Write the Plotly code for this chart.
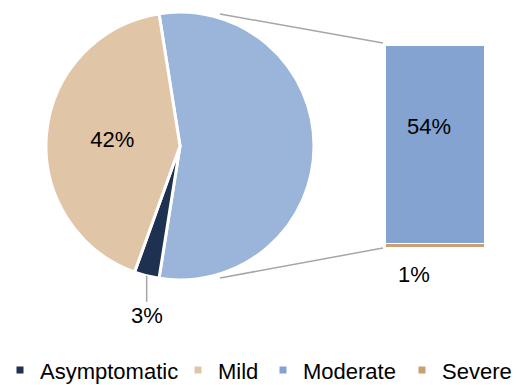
import math
import plotly.graph_objects as go

# Severity breakdown (share of cases, %)
categories = ["Asymptomatic", "Mild", "Moderate", "Severe"]
shares = [3, 42, 54, 1]
colors = ["#1F3150", "#E0C5A6", "#84A3D1", "#C9A074"]
other_color = "#9BB5DA"          # combined Moderate + Severe slice in the pie
pie_labels = ["3%", "42%"]
bar_labels = ["54%", "1%"]

asym, mild, moderate, severe = shares
other = moderate + severe

W, H = 516, 385
FONT = "Liberation Sans"
GREY = "#A6A6A6"

# pie placement in pixels (centre and radius)
cx, cy, r = 180, 146, 134
pie_dom_x = [(cx - r) / W, (cx + r) / W]
pie_dom_y = [(H - cy - r) / H, (H - cy + r) / H]

# the "other" slice is centred on 3 o'clock
total = asym + mild + other
rotation = 90 - 180 * other / total


def px_to_paper(x, y):
    return x / W, (H - y) / H


fig = go.Figure()

fig.add_trace(go.Pie(
    values=[other, asym, mild],
    labels=["Moderate + Severe", categories[0], categories[1]],
    marker=dict(colors=[other_color, colors[0], colors[1]],
                line=dict(color="white", width=3)),
    sort=False,
    direction="clockwise",
    rotation=rotation,
    text=["", "", pie_labels[1]],
    textinfo="text",
    textposition=["none", "none", "inside"],
    insidetextorientation="horizontal",
    textfont=dict(family=FONT, size=22, color="black"),
    domain=dict(x=pie_dom_x, y=pie_dom_y),
    showlegend=False,
    hoverinfo="label+percent",
))

# bar of the split "other" slice: Severe at the base, Moderate on top
fig.add_trace(go.Bar(x=[0], y=[severe], name=categories[3],
                     marker=dict(color=colors[3], line=dict(color="white", width=1)),
                     showlegend=False))
fig.add_trace(go.Bar(x=[0], y=[moderate], name=categories[2],
                     marker=dict(color=colors[2], line=dict(color="white", width=1)),
                     showlegend=False))

# legend entries (per-entry widths set the spacing along the row)
entry_widths = [133, 40, 94, 70]
for name, col, ew in zip(categories, colors, entry_widths):
    fig.add_trace(go.Scatter(x=[None], y=[None], mode="markers", name=name,
                             legendwidth=ew,
                             marker=dict(symbol="square", size=7, color=col)))

# label for the small Asymptomatic slice, with a leader line
mid = math.radians(rotation + 360 * (other + asym / 2) / total)
lx, ly = px_to_paper(cx + r * math.sin(mid), cy - r * math.cos(mid))
annotations = [
    dict(x=lx, y=ly, xref="paper", yref="paper", text=pie_labels[0],
         showarrow=True, arrowhead=0, arrowwidth=1.5, arrowcolor=GREY,
         ax=0, ay=40, font=dict(family=FONT, size=22, color="black")),
    dict(x=0, y=severe + moderate * 0.59, xref="x", yref="y", text=bar_labels[0],
         showarrow=False, xshift=-6, font=dict(family=FONT, size=22, color="black")),
    dict(x=0, y=0, xref="x", yref="y", text=bar_labels[1], showarrow=False,
         xshift=-21, yshift=-27, font=dict(family=FONT, size=22, color="black")),
]

# connector lines from the pie to the bar
bar_left_px = 383
shapes = []
for (x0, y0), (x1, y1) in [((220, 14), (bar_left_px, 43)),
                           ((220, 278), (bar_left_px, 248))]:
    p0 = px_to_paper(x0, y0)
    p1 = px_to_paper(x1, y1)
    shapes.append(dict(type="line", xref="paper", yref="paper",
                       x0=p0[0], y0=p0[1], x1=p1[0], y1=p1[1],
                       line=dict(color=GREY, width=1.5), layer="below"))

fig.update_layout(
    width=W, height=H,
    margin=dict(l=0, r=0, t=0, b=0, autoexpand=False),
    paper_bgcolor="white", plot_bgcolor="rgba(0,0,0,0)",
    barmode="stack", bargap=0.2,
    xaxis=dict(domain=[0.723, 0.963], range=[-0.5, 0.5], visible=False, fixedrange=True),
    yaxis=dict(domain=[(H - 247) / H, (H - 45) / H], range=[0, other],
               visible=False, fixedrange=True),
    showlegend=True,
    legend=dict(orientation="h", traceorder="normal",
                x=0, xanchor="left", y=-0.016, yanchor="bottom",
                bgcolor="rgba(0,0,0,0)", tracegroupgap=0,
                font=dict(family=FONT, size=22, color="black"),
                itemclick=False, itemdoubleclick=False),
    annotations=annotations,
    shapes=shapes,
    font=dict(family=FONT),
)

fig.write_html("out.html")
